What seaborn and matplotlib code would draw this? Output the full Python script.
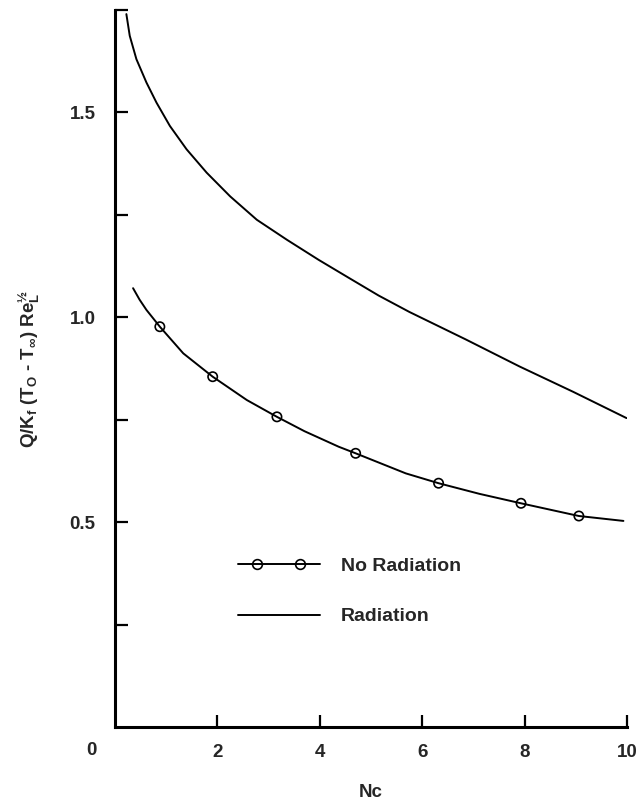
import matplotlib
matplotlib.use("Agg")
import matplotlib.pyplot as plt
import seaborn as sns
import pandas as pd
from matplotlib.lines import Line2D
from matplotlib.legend_handler import HandlerLine2D, HandlerTuple

# ---- data ----
rad_x = [0.222, 0.288, 0.418, 0.614, 0.81, 1.072, 1.398, 1.79, 2.25, 2.77, 3.36,
         3.98, 4.57, 5.15, 5.75, 6.85, 7.90, 8.95, 9.99]
rad_y = [1.740, 1.687, 1.630, 1.573, 1.524, 1.467, 1.410, 1.353, 1.295, 1.238,
         1.189, 1.140, 1.096, 1.053, 1.013, 0.946, 0.880, 0.818, 0.754]

norad_x = [0.353, 0.48, 0.614, 0.876, 1.333, 1.908, 2.575, 3.163, 3.7, 4.37, 4.70,
           5.68, 6.32, 7.12, 7.93, 9.06, 9.93]
norad_y = [1.071, 1.043, 1.018, 0.977, 0.912, 0.855, 0.798, 0.757, 0.722, 0.684,
           0.668, 0.619, 0.595, 0.569, 0.546, 0.515, 0.503]

marker_x = [0.876, 1.908, 3.163, 4.70, 6.32, 7.93, 9.06]
marker_y = [0.977, 0.855, 0.757, 0.668, 0.595, 0.546, 0.515]

xticks = [2, 4, 6, 8, 10]
yticks = [0.25, 0.5, 0.75, 1.0, 1.25, 1.5, 1.75]
ytick_labels = ["", "0.5", "", "1.0", "", "1.5", ""]
legend_labels = ["No Radiation", "Radiation"]

sns.set_style("ticks")
plt.rcParams["font.family"] = ["Liberation Sans", "DejaVu Sans"]
plt.rcParams["font.weight"] = "bold"
plt.rcParams["mathtext.fontset"] = "custom"
plt.rcParams["mathtext.rm"] = "Liberation Sans:bold"
plt.rcParams["mathtext.it"] = "Liberation Sans:bold"
plt.rcParams["mathtext.bf"] = "Liberation Sans:bold"

FS = 13.5

fig = plt.figure(figsize=(6.42, 8.01), dpi=100)
ax = fig.add_axes([115 / 642, 1 - 727 / 801, 512 / 642, 717 / 801])

df_rad = pd.DataFrame({"x": rad_x, "y": rad_y})
df_norad = pd.DataFrame({"x": norad_x, "y": norad_y})
df_mark = pd.DataFrame({"x": marker_x, "y": marker_y})

sns.lineplot(data=df_rad, x="x", y="y", ax=ax, color="black", lw=1.4, sort=False)
sns.lineplot(data=df_norad, x="x", y="y", ax=ax, color="black", lw=1.4, sort=False)
sns.scatterplot(data=df_mark, x="x", y="y", ax=ax, marker="o", s=45,
                facecolor="none", edgecolor="black", linewidth=1.2, zorder=5)

ax.set_xlim(0, 10)
ax.set_ylim(0, 1.75)
ax.set_xticks(xticks)
ax.set_xticklabels([str(t) for t in xticks])
ax.set_yticks(yticks)
ax.set_yticklabels(ytick_labels)
ax.tick_params(direction="in", length=9, width=1.6, labelsize=FS, color="black")
ax.tick_params(axis="x", pad=12)
ax.tick_params(axis="y", pad=14)
for lab in ax.get_xticklabels() + ax.get_yticklabels():
    lab.set_fontweight("bold")

sns.despine(ax=ax)
for s in ["left", "bottom"]:
    ax.spines[s].set_linewidth(2.2)
    ax.spines[s].set_color("black")

# origin label "0" set left of the corner, level with the x tick labels
ax.annotate("0", xy=(0, 0), xycoords="data", xytext=(-17, -17),
            textcoords="offset points", fontsize=FS, fontweight="bold",
            ha="center", va="center")

ax.set_xlabel("Nc", fontsize=FS, fontweight="bold", labelpad=17)
ax.set_ylabel(r"Q/K$_{f}$ (T$_{O}$ - T$_{\infty}$) Re$_{L}^{½}$", fontsize=FS,
              fontweight="bold", labelpad=20)

line_h = Line2D([], [], color="black", lw=1.4)
mark_h = Line2D([], [], color="black", lw=0, marker="o", mfc="none", mec="black",
                ms=7, mew=1.2)
line_h2 = Line2D([], [], color="black", lw=1.4)
ax.legend([(line_h, mark_h), line_h2], legend_labels, loc="upper left",
          bbox_to_anchor=(0.24, 0.237), frameon=False, handlelength=4.2,
          handletextpad=1.1, labelspacing=1.7, borderpad=0, borderaxespad=0,
          prop={"weight": "bold", "size": 14},
          handler_map={tuple: HandlerTuple(ndivide=1),
                       mark_h: HandlerLine2D(numpoints=2, marker_pad=1.0),
                       line_h: HandlerLine2D(numpoints=1)})

fig.savefig("out.png", dpi=100)
